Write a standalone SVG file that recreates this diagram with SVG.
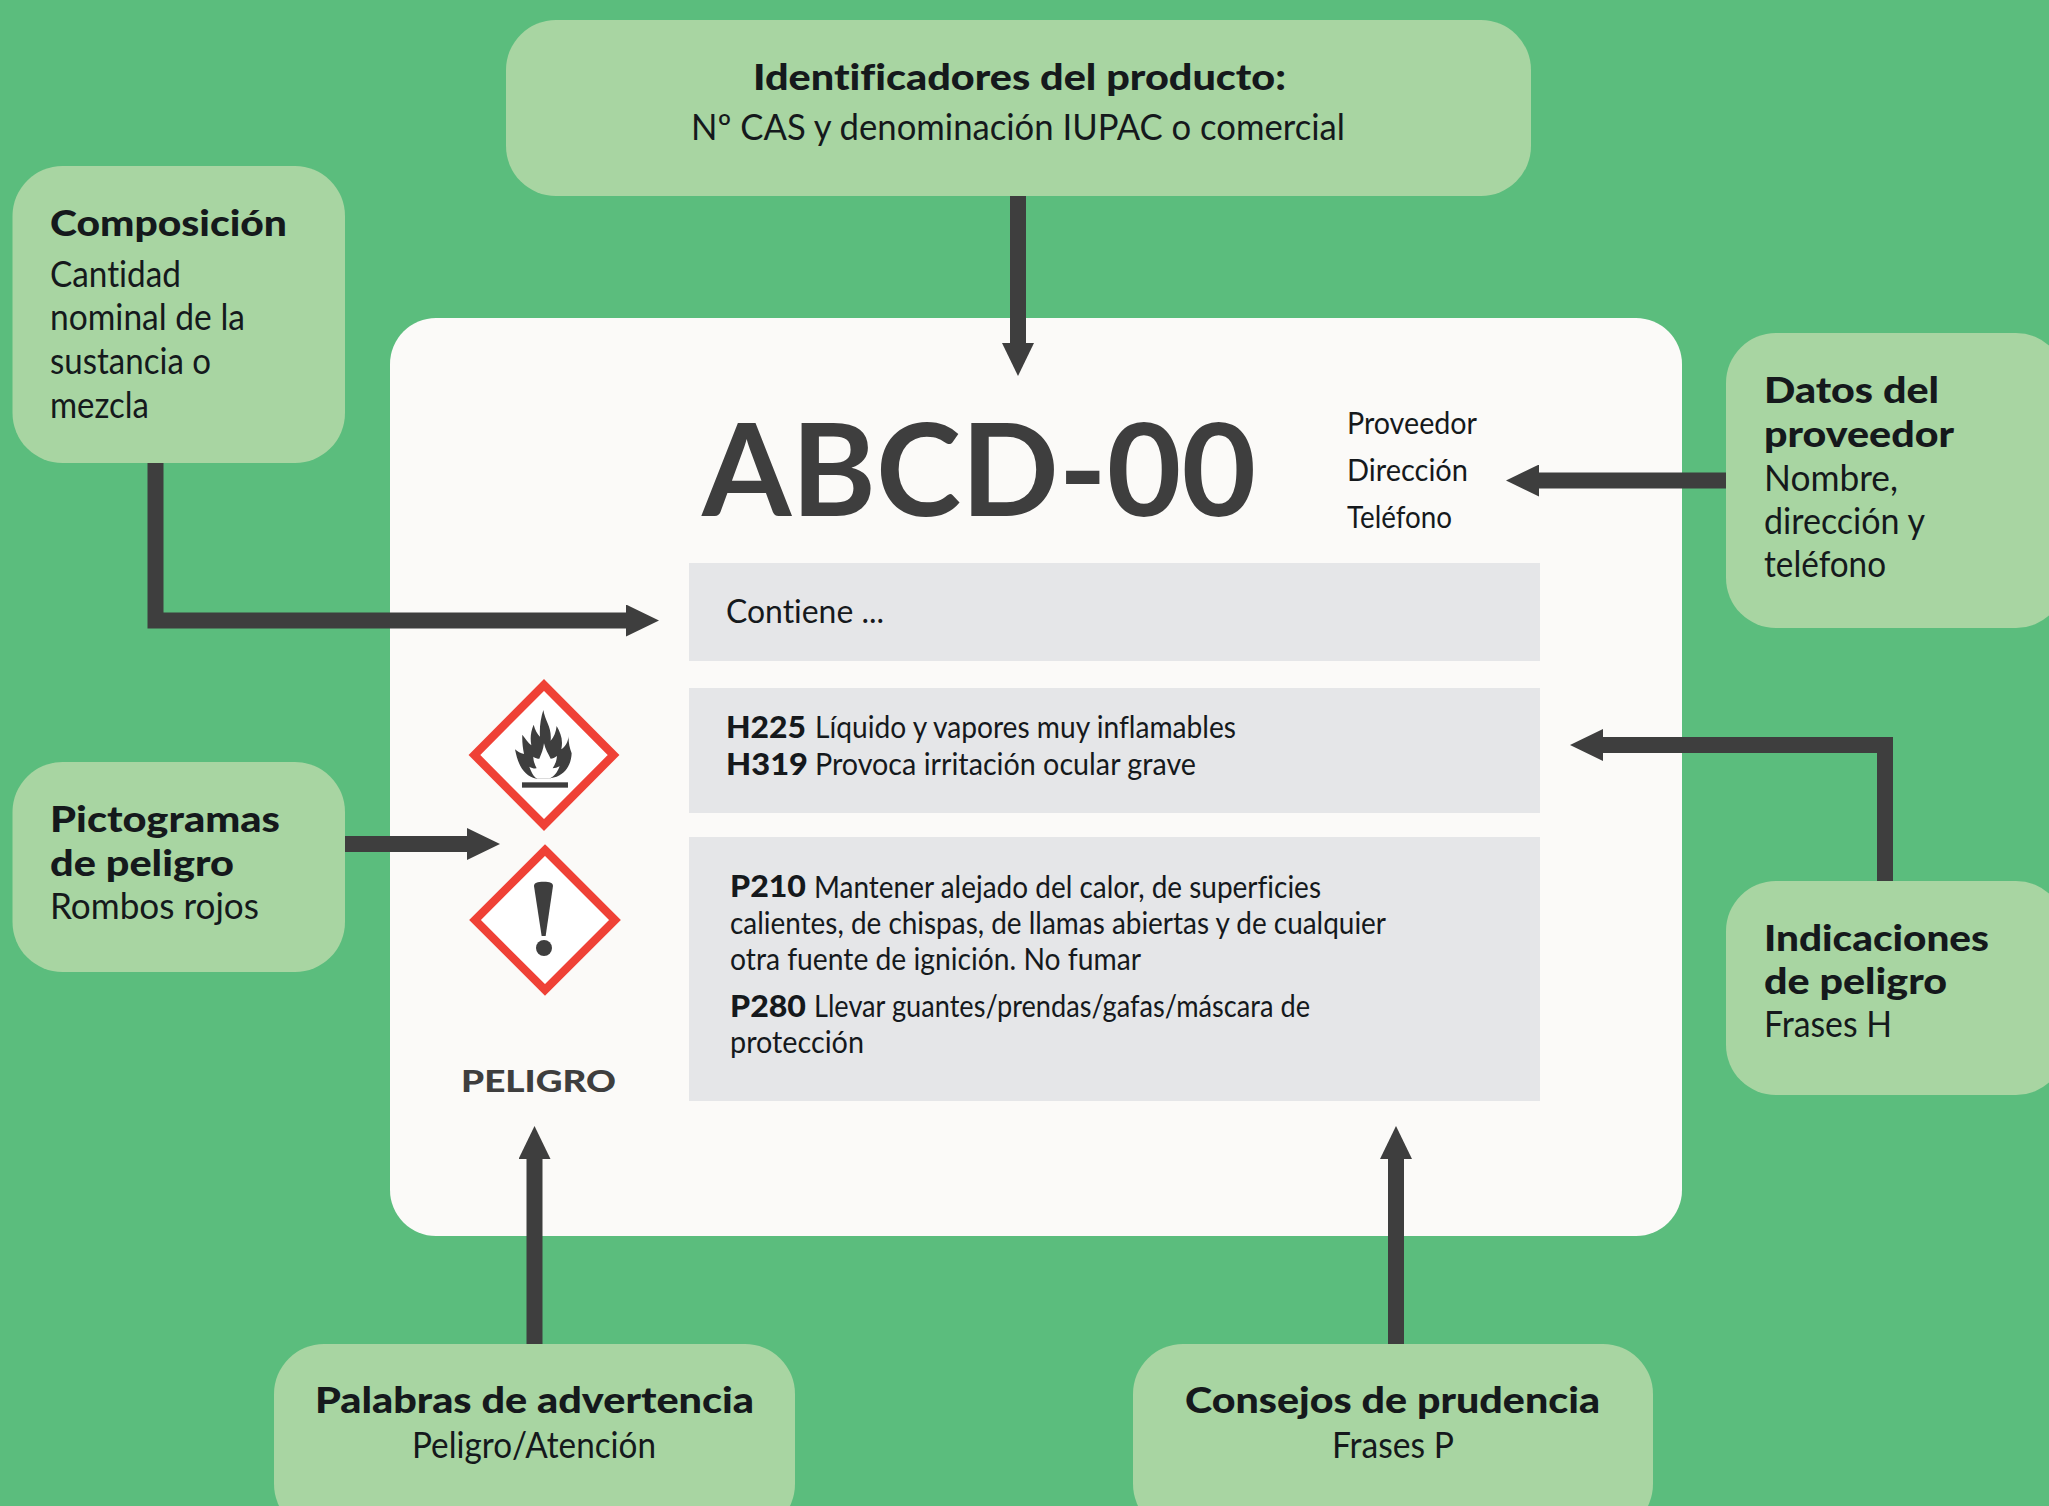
<svg xmlns="http://www.w3.org/2000/svg" width="2049" height="1506" viewBox="0 0 2049 1506">
<defs>
<style>
text{font-family:"Lato","Open Sans","Liberation Sans",sans-serif;fill:#15191c;font-variant-ligatures:none}
.h{font-size:36px;font-weight:900}
.b{font-size:36px;font-weight:400}
.s{font-size:30px;font-weight:400}
.sb{font-size:30px;font-weight:900}
.box{fill:#a8d5a2}
.gray{fill:#e5e6e8}
.dia{fill:#fff;stroke:#ef4136;stroke-width:8.300;stroke-miterlimit:10}
.ink{fill:#3e3e3e}
.conn{fill:none;stroke:#3e3e3e;stroke-width:16}
</style>
<marker id="head" viewBox="0 0 33 32" refX="0" refY="16" markerUnits="userSpaceOnUse" markerWidth="33" markerHeight="32" orient="auto"><path d="M0 0L33 16L0 32Z" fill="#3e3e3e"/></marker>
</defs>
<rect width="2049" height="1506" fill="#5bbd7d"/>
<g id="label-card">
<rect x="390" y="318" width="1292" height="918" rx="46" fill="#fbfaf8"/>
<text x="702" y="516" style="font-size:128px;font-weight:700;fill:#3e3e3e" textLength="554" lengthAdjust="spacingAndGlyphs">ABCD-00</text>
<text class="s" x="1347" y="434" textLength="130" lengthAdjust="spacingAndGlyphs">Proveedor</text>
<text class="s" x="1347" y="481" textLength="121" lengthAdjust="spacingAndGlyphs">Dirección</text>
<text class="s" x="1347" y="528" textLength="105" lengthAdjust="spacingAndGlyphs">Teléfono</text>
<rect class="gray" x="689" y="563" width="851" height="98"/>
<text class="b" style="font-size:33px" x="726" y="623" textLength="158" lengthAdjust="spacingAndGlyphs">Contiene ...</text>
<rect class="gray" x="689" y="688" width="851" height="125"/>
<text class="sb" x="726" y="738" textLength="80" lengthAdjust="spacingAndGlyphs">H225</text>
<text class="s" x="815" y="738" textLength="421" lengthAdjust="spacingAndGlyphs">Líquido y vapores muy inflamables</text>
<text class="sb" x="726" y="775" textLength="82" lengthAdjust="spacingAndGlyphs">H319</text>
<text class="s" x="815" y="775" textLength="381" lengthAdjust="spacingAndGlyphs">Provoca irritación ocular grave</text>
<rect class="gray" x="689" y="837" width="851" height="264"/>
<text class="sb" x="730" y="897" textLength="76" lengthAdjust="spacingAndGlyphs">P210</text>
<text class="s" x="814" y="898" textLength="507" lengthAdjust="spacingAndGlyphs">Mantener alejado del calor, de superficies</text>
<text class="s" x="730" y="934" textLength="656" lengthAdjust="spacingAndGlyphs">calientes, de chispas, de llamas abiertas y de cualquier</text>
<text class="s" x="730" y="970" textLength="411" lengthAdjust="spacingAndGlyphs">otra fuente de ignición. No fumar</text>
<text class="sb" x="730" y="1017" textLength="76" lengthAdjust="spacingAndGlyphs">P280</text>
<text class="s" x="814" y="1017" textLength="496" lengthAdjust="spacingAndGlyphs">Llevar guantes/prendas/gafas/máscara de</text>
<text class="s" x="730" y="1053" textLength="134" lengthAdjust="spacingAndGlyphs">protección</text>
<text x="461" y="1092" style="font-size:31px;font-weight:900;fill:#3e3e3e" textLength="155" lengthAdjust="spacingAndGlyphs">PELIGRO</text>
</g>
<g id="pictogram-flame">
<polygon class="dia" points="544,685 613.600,755 544,825 474.400,755"/>
<g transform="translate(400 650) scale(.3333)">
<path class="ink" d="M430 180C436 215 456 232 452 272C462 262 468 245 470 228C482 250 490 268 484 298C496 290 504 276 506 258C505 275 508 292 515 310C514 340 500 368 470 380L445 386H410C375 380 355 350 345 298C352 305 362 310 372 312C368 292 366 272 367 254C375 265 385 278 394 286C390 265 392 245 401 224C405 240 412 252 420 260C418 232 422 205 430 180Z"/>
<path fill="#fff" d="M432 280C436 298 445 312 452 326C458 326 465 323 471 318C470 332 465 345 458 355C465 355 472 353 479 349C472 368 462 380 448 386H412C400 380 394 366 388 350C395 354 402 356 410 355C404 343 400 332 400 320C406 324 412 326 418 326C424 312 430 298 432 280Z"/>
<rect class="ink" x="366" y="397" width="138" height="16"/>
</g>
</g>
<g id="pictogram-exclamation">
<polygon class="dia" points="545,850 615,920 545,990 475,920"/>
<g transform="translate(400 650) scale(.3333)">
<path class="ink" d="M402 708C402 698 412 695 431 695C450 695 459 698 459 708L437 858H425Z"/>
<circle class="ink" cx="432" cy="894" r="24"/>
</g>
</g>
<g id="connectors">
<path class="conn" d="M1018 196V343" marker-end="url(#head)"/>
<path class="conn" d="M155.500 463V620.500H626" marker-end="url(#head)"/>
<path class="conn" d="M1726 480.500H1539" marker-end="url(#head)"/>
<path class="conn" d="M1885 881V745H1603" marker-end="url(#head)"/>
<path class="conn" d="M345 844H467" marker-end="url(#head)"/>
<path class="conn" d="M534.500 1344V1159" marker-end="url(#head)"/>
<path class="conn" d="M1396 1344V1159" marker-end="url(#head)"/>
</g>
<g id="node-identificadores">
<rect class="box" x="506" y="20" width="1025" height="176" rx="50"/>
<text class="h" x="753" y="89.500" textLength="533" lengthAdjust="spacingAndGlyphs">Identificadores del producto:</text>
<text class="b" x="691" y="140" textLength="654" lengthAdjust="spacingAndGlyphs">Nº CAS y denominación IUPAC o comercial</text>
</g>
<g id="node-composicion">
<rect class="box" x="12.500" y="166" width="332.500" height="297" rx="50"/>
<text class="h" x="50" y="235.500" textLength="237" lengthAdjust="spacingAndGlyphs">Composición</text>
<text class="b" x="50" y="287" textLength="131" lengthAdjust="spacingAndGlyphs">Cantidad</text>
<text class="b" x="50" y="330" textLength="195" lengthAdjust="spacingAndGlyphs">nominal de la</text>
<text class="b" x="50" y="374" textLength="161" lengthAdjust="spacingAndGlyphs">sustancia o</text>
<text class="b" x="50" y="418" textLength="99" lengthAdjust="spacingAndGlyphs">mezcla</text>
</g>
<g id="node-proveedor">
<rect class="box" x="1726" y="333" width="340" height="295" rx="50"/>
<text class="h" x="1764" y="402.500" textLength="175" lengthAdjust="spacingAndGlyphs">Datos del</text>
<text class="h" x="1764" y="447" textLength="190" lengthAdjust="spacingAndGlyphs">proveedor</text>
<text class="b" x="1764" y="491" textLength="134" lengthAdjust="spacingAndGlyphs">Nombre,</text>
<text class="b" x="1764" y="534" textLength="161" lengthAdjust="spacingAndGlyphs">dirección y</text>
<text class="b" x="1764" y="577" textLength="122" lengthAdjust="spacingAndGlyphs">teléfono</text>
</g>
<g id="node-pictogramas">
<rect class="box" x="12.500" y="762" width="332.500" height="210" rx="50"/>
<text class="h" x="50" y="831.500" textLength="230" lengthAdjust="spacingAndGlyphs">Pictogramas</text>
<text class="h" x="50" y="875.500" textLength="184" lengthAdjust="spacingAndGlyphs">de peligro</text>
<text class="b" x="50" y="919" textLength="209" lengthAdjust="spacingAndGlyphs">Rombos rojos</text>
</g>
<g id="node-indicaciones">
<rect class="box" x="1726" y="881" width="340" height="214" rx="50"/>
<text class="h" x="1764" y="950.500" textLength="225" lengthAdjust="spacingAndGlyphs">Indicaciones</text>
<text class="h" x="1764" y="993.500" textLength="183" lengthAdjust="spacingAndGlyphs">de peligro</text>
<text class="b" x="1764" y="1037" textLength="128" lengthAdjust="spacingAndGlyphs">Frases H</text>
</g>
<g id="node-palabras">
<rect class="box" x="274" y="1344" width="521" height="190" rx="50"/>
<text class="h" x="315" y="1413" textLength="439" lengthAdjust="spacingAndGlyphs">Palabras de advertencia</text>
<text class="b" x="412" y="1457.500" textLength="244" lengthAdjust="spacingAndGlyphs">Peligro/Atención</text>
</g>
<g id="node-consejos">
<rect class="box" x="1133" y="1344" width="520" height="190" rx="50"/>
<text class="h" x="1185" y="1413" textLength="415" lengthAdjust="spacingAndGlyphs">Consejos de prudencia</text>
<text class="b" x="1332" y="1457.500" textLength="122" lengthAdjust="spacingAndGlyphs">Frases P</text>
</g>
</svg>
